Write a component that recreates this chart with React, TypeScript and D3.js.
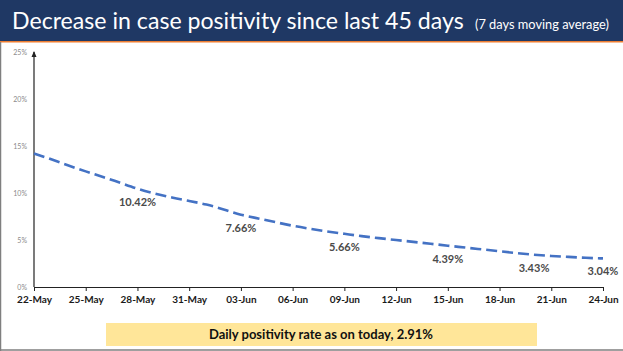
import React, { useEffect, useRef } from 'react'
import * as d3 from 'd3'

// 7 day moving average of test positivity (%), 22-May .. 24-Jun
const startDate = new Date(2021, 4, 22)
const positivity = [
  14.2, 13.6, 12.9, 12.3, 11.7, 11.1, 10.42, 9.95, 9.5, 9.15,
  8.8, 8.25, 7.66, 7.3, 6.9, 6.5, 6.2, 5.9, 5.66, 5.4,
  5.2, 5.0, 4.8, 4.6, 4.39, 4.2, 4.0, 3.8, 3.6, 3.43,
  3.3, 3.2, 3.1, 3.04
]
// which days get a value label
const labelledDays = [6, 12, 18, 24, 29, 33]
const yTicks = [0, 5, 10, 15, 20, 25]
const tickEvery = 3

const W = 623
const H = 351

const App = () => {
  const svgRef = useRef<SVGSVGElement>(null)

  useEffect(() => {
    const svg = d3.select(svgRef.current)
    svg.selectAll('.chart').remove()
    const g = svg.append('g').attr('class', 'chart')

    // fit the heading texts to the widths seen in the slide
    const fit = (sel: string, width: number) => {
      const node = svg.select<SVGTextElement>(sel).node()
      if (!node) return
      const fs = parseFloat(node.getAttribute('font-size') || '12')
      const w = node.getComputedTextLength()
      if (w > 0) node.setAttribute('font-size', String(fs * width / w))
    }
    fit('.title', 452)
    fit('.subtitle', 134)

    const data = positivity.map((v, i) => ({ date: d3.timeDay.offset(startDate, i), v, i }))
    const endDate = data[data.length - 1].date

    const x = d3.scaleTime().domain([startDate, endDate]).range([34, 603])
    const y = d3.scaleLinear().domain([0, 25]).range([287, 52])

    // y axis labels (no ticks)
    g.selectAll('.ylab')
      .data(yTicks)
      .join('text')
      .attr('class', 'ylab')
      .attr('x', 27)
      .attr('y', d => y(d) + 2.5)
      .attr('text-anchor', 'end')
      .attr('font-family', 'Lato, sans-serif')
      .attr('font-size', 7)
      .attr('fill', '#8a8a8a')
      .text(d => d + '%')

    // y axis line with arrow
    g.append('line')
      .attr('x1', x(startDate)).attr('x2', x(startDate))
      .attr('y1', y(0)).attr('y2', y(25))
      .attr('stroke', '#222').attr('stroke-width', 1.2)
    g.append('path')
      .attr('d', `M${x(startDate) - 2.5},${y(25) + 5} L${x(startDate)},${y(25) - 1} L${x(startDate) + 2.5},${y(25) + 5} Z`)
      .attr('fill', '#222')

    // x axis
    const tickDates = data.filter(d => d.i % tickEvery === 0).map(d => d.date)
    const xAxis = d3.axisBottom(x)
      .tickValues(tickDates)
      .tickSize(4)
      .tickSizeOuter(0)
      .tickPadding(5)
      .tickFormat(d => d3.timeFormat('%d-%b')(d as Date))
    const ax = g.append('g').attr('transform', `translate(0,${y(0)})`).call(xAxis)
    ax.select('.domain').attr('stroke', '#222').attr('stroke-width', 1.2)
    ax.selectAll('.tick line').attr('stroke', '#222')
    ax.selectAll('.tick text')
      .attr('font-family', 'Lato, sans-serif')
      .attr('font-weight', 700)
      .attr('font-size', 10)
      .attr('fill', '#1a1a1a')

    // dashed trend line
    const line = d3.line<{ date: Date; v: number }>()
      .x(d => x(d.date))
      .y(d => y(d.v))
      .curve(d3.curveBasis)
    g.append('path')
      .datum(data)
      .attr('d', line)
      .attr('fill', 'none')
      .attr('stroke', '#4472c4')
      .attr('stroke-width', 2.6)
      .attr('stroke-dasharray', '11,5')

    // value labels below line
    g.selectAll('.vlab')
      .data(data.filter(d => labelledDays.includes(d.i)))
      .join('text')
      .attr('class', 'vlab')
      .attr('x', d => x(d.date))
      .attr('y', d => y(d.v) + 17)
      .attr('text-anchor', 'middle')
      .attr('font-family', 'Lato, sans-serif')
      .attr('font-weight', 700)
      .attr('font-size', 11)
      .attr('fill', '#4a4a4a')
      .text(d => d.v.toFixed(2) + '%')
  }, [])

  return (
    <svg ref={svgRef} width={W} height={H} style={{ position: 'absolute', left: 0, top: 0, background: '#fff' }}>
      <rect x={0} y={0} width={W} height={41} fill="#1f3864" />
      <rect x={0} y={41} width={W} height={1.5} fill="#ed7d31" />
      <text className="title" x={12} y={29} fill="#fff" fontFamily="Lato, sans-serif" fontSize={25}>
        Decrease in case positivity since last 45 days
      </text>
      <text className="subtitle" x={475} y={29} fill="#fff" fontFamily="Lato, sans-serif" fontSize={11}>
        (7 days moving average)
      </text>
      <line x1={0.5} y1={42} x2={0.5} y2={H} stroke="#7f7f7f" strokeWidth={1.5} />
      <line x1={0} y1={H - 1} x2={W} y2={H - 1} stroke="#7f7f7f" strokeWidth={1.5} />
      <rect x={106} y={323} width={431} height={23} fill="#ffe699" />
      <text x={321} y={339} textAnchor="middle" fontFamily="Lato, sans-serif" fontWeight={700}
        fontSize={13} fill="#111">
        Daily positivity rate as on today, 2.91%
      </text>
    </svg>
  )
}

export default App
